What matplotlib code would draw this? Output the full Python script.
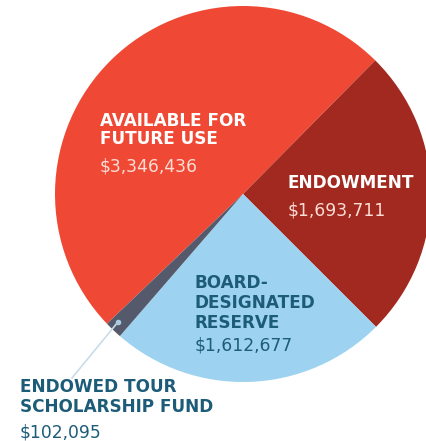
import matplotlib
matplotlib.use("Agg")
import matplotlib.pyplot as plt

# ---- data ----
categories = ["AVAILABLE FOR\nFUTURE USE", "ENDOWMENT", "BOARD-\nDESIGNATED\nRESERVE",
              "ENDOWED TOUR\nSCHOLARSHIP FUND"]
values = [3346436, 1693711, 1612677, 102095]
value_labels = ["$3,346,436", "$1,693,711", "$1,612,677", "$102,095"]
colors = ["#EF4935", "#A2291F", "#9DD2F0", "#545A6B"]

W, H = 427, 441
fig = plt.figure(figsize=(W / 100, H / 100), dpi=100)
ax = fig.add_axes([0, 0, 1, 1])

cx, cy, r = 243, H - 194, 188
total = sum(values)
start = 45.3 + 360 * values[0] / total  # first slice ends at the upper-right boundary

ax.pie(values, colors=colors, startangle=start, counterclock=False,
       center=(cx, cy), radius=r, wedgeprops=dict(linewidth=0))

ax.set_xlim(0, W)
ax.set_ylim(0, H)
ax.set_aspect("equal")
ax.axis("off")

font = "DejaVu Sans"
title_fs = 12.2
val_fs = 12.3
white = "#FFFFFF"
pink = "#FBDDD6"
teal = "#1C5C78"

def label(x, baselines, title, val, tcol, vcol):
    lines = title.split("\n")
    for line, yb in zip(lines, baselines[:-1]):
        ax.text(x, H - yb, line, color=tcol, fontsize=title_fs, fontweight="bold",
                family=font, va="baseline", ha="left")
    ax.text(x, H - baselines[-1], val, color=vcol, fontsize=val_fs, family=font,
            va="baseline", ha="left")

label(100, [125.5, 144.5, 171.5], categories[0], value_labels[0], white, pink)
label(288, [187.5, 215.5], categories[1], value_labels[1], white, pink)
label(195, [287.5, 307.5, 327.5, 350.5], categories[2], value_labels[2], teal, teal)

# leader line for the small slice
ax.plot([118, 72], [H - 322, H - 378], color="#C9DDE8", lw=1.2)
ax.plot([118], [H - 322], "o", color="#A9CBE0", ms=3)
label(20, [392.5, 412.5, 437.5], categories[3], value_labels[3], teal, teal)

fig.savefig("out.png", dpi=100)
